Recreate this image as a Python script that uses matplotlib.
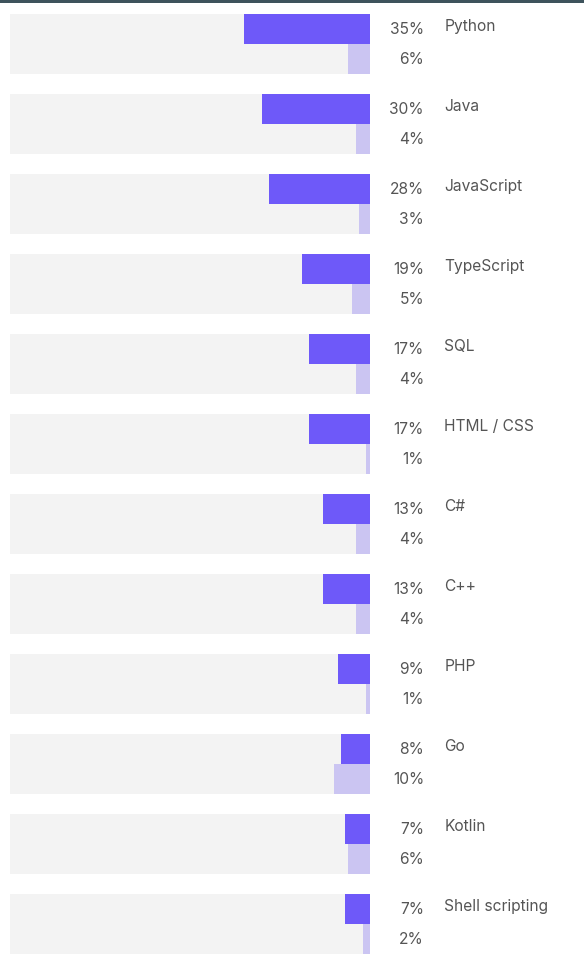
import matplotlib.pyplot as plt
import matplotlib.patches as mpatches

# data
languages = ['Python', 'Java', 'JavaScript', 'TypeScript', 'SQL', 'HTML / CSS',
             'C#', 'C++', 'PHP', 'Go', 'Kotlin', 'Shell scripting']
share_main = [35, 30, 28, 19, 17, 17, 13, 13, 9, 8, 7, 7]
share_second = [6, 4, 3, 5, 4, 1, 4, 4, 1, 10, 6, 2]

dark = '#6e59f9'
light = '#cbc5f2'
track = '#f3f3f3'
txt = '#555555'

plt.rcParams['font.family'] = ['Inter', 'DejaVu Sans']

W, H = 584, 957
fig = plt.figure(figsize=(W / 100, H / 100), dpi=100)
fig.patch.set_facecolor('white')

# axes: x 0..100 -> px 10..370, each group is 80 px tall
top_px = 4
ax = fig.add_axes([10 / W, 0, 360 / W, (H - top_px) / H])
ax.set_xlim(0, 100)
ax.set_ylim(-0.5 + (H - top_px) / 80, -0.5)
ax.axis('off')

n = len(languages)
ys = list(range(n))
ax.barh(ys, [100] * n, left=0, height=0.75, color=track, align='center')
ax.barh([y - 0.1875 for y in ys], share_main,
        left=[100 - v for v in share_main], height=0.375, color=dark)
ax.barh([y + 0.1875 for y in ys], share_second,
        left=[100 - v for v in share_second], height=0.375, color=light)

for y, name, a, b in zip(ys, languages, share_main, share_second):
    ax.text(115.0, y - 0.18, f'{a}%', ha='right', va='center',
            fontsize=11.2, color=txt, clip_on=False)
    ax.text(115.0, y + 0.195, f'{b}%', ha='right', va='center',
            fontsize=11.2, color=txt, clip_on=False)
    ax.text(120.6, y - 0.215, name, ha='left', va='center',
            fontsize=11.2, color=txt, clip_on=False)

# thin dark strip on top
fig.add_artist(mpatches.Rectangle((0, 1 - 3 / H), 1, 3 / H,
                                  transform=fig.transFigure,
                                  color='#3e535c', lw=0))

fig.savefig('out.png', dpi=100)
